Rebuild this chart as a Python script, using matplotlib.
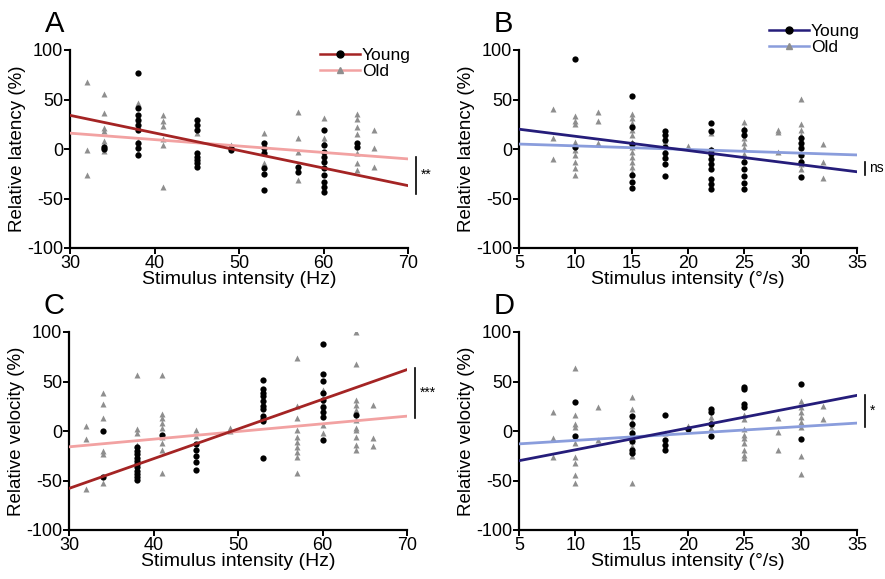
import matplotlib
matplotlib.use("Agg")
import matplotlib.pyplot as plt
from matplotlib.lines import Line2D

plt.rcParams['font.family'] = ['Liberation Sans', 'DejaVu Sans']
plt.rcParams['axes.unicode_minus'] = False

# ---- data: {stimulus: [values]} ----
# A: latency vs Hz
a_young = {34: [2, 0], 38: [77, 41, 34, 29, 24, 19, 6, 1, -6],
           45: [29, 24, 19, -4, -8, -11, -14, -18], 49: [1, -1],
           53: [6, 1, -4, -19, -25, -41], 57: [-18, -23],
           60: [19, 4, -3, -8, -13, -19, -26, -33, -38, -43], 64: [6, 2]}
a_old = {32: [68, -1, -26], 34: [56, 36, 21, 18, 8, 3, -2],
         38: [46, 30, 8, -3], 41: [34, 28, 23, 10, 4, -38], 45: [16],
         49: [4], 53: [16, -14], 57: [37, 11, -3, -31],
         60: [31, 11, 7], 64: [35, 30, 22, 15, -4, -14, -21], 66: [19, 1, -18]}
a_fit_young = [34, -37]
a_fit_old = [16, -10]

# B: latency vs deg/s
b_young = {10: [91, 2], 15: [54, 22, 5, -26, -33, -39],
           18: [18, 14, 9, 2, -4, -9, -15, -27],
           22: [26, 18, -1, -5, -10, -15, -20, -30, -35, -40],
           25: [19, 14, -13, -20, -27, -34, -40],
           30: [11, 6, 1, -6, -13, -28]}
b_old = {8: [40, 11, -10], 10: [33, 28, 25, 7, 4, -1, -6, -13, -19, -26],
         12: [37, 28, 6], 15: [35, 31, 26, 19, 14, 7, 2, -3, -8, -13, -18, -23],
         18: [8, -8], 20: [3], 22: [16, 0],
         25: [27, 21, 16, 11, 6, 1, -5, -10], 28: [19, 17, -3],
         30: [51, 25, 19, 14, 6, -5, -10, -15, -20], 32: [5, -13, -29]}
b_fit_young = [20, -23]
b_fit_old = [5, -6]

# C: velocity vs Hz
c_young = {34: [0, -46], 38: [-16, -20, -23, -27, -30, -33, -36, -40, -43, -46, -49],
           41: [-4], 45: [-13, -19, -25, -31, -39],
           53: [52, 42, 38, 35, 30, 25, 22, 15, 12, 10, -27],
           60: [88, 58, 51, 38, 31, 24, 19, 14, -9], 64: [16]}
c_old = {32: [5, -8, -59], 34: [38, 27, 13, -20, -23, -53],
         38: [57, 2, -2, -14], 41: [57, 17, 13, 8, 3, -6, -12, -19, -42],
         45: [1, -5], 49: [3, 0],
         57: [74, 25, 13, 1, -6, -11, -16, -21, -26, -42],
         60: [41, 28, 6, -2],
         64: [100, 68, 31, 26, 21, 11, 3, 1, -6, -14, -19], 66: [26, -7, -15]}
c_fit_young = [-58, 62]
c_fit_old = [-16, 15]

# D: velocity vs deg/s
d_young = {10: [29, -5], 15: [15, 7, -2, -10, -19, -22], 18: [16, -9, -14, -19],
           20: [2], 22: [22, 19, 7, -5], 25: [44, 42, 27, 24], 30: [47, -8]}
d_old = {8: [19, -7, -26], 10: [64, 16, 7, 4, -12, -26, -32, -44, -53],
         12: [24, -9], 15: [34, 22, 15, 10, 5, 0, -5, -10, -15, -20, -25, -53],
         18: [-2], 20: [5], 22: [14, 10, 3],
         25: [16, 12, 2, -4, -7, -12, -19, -24, -27], 28: [13, -1, -19],
         30: [30, 24, 19, 14, 9, 4, -25, -43], 32: [25, 12]}
d_fit_young = [-30, 36]
d_fit_old = [-13, 8]

hz_ticks = [30, 40, 50, 60, 70]
dps_ticks = [5, 10, 15, 20, 25, 30, 35]
y_ticks = [-100, -50, 0, 50, 100]

red_dark, red_light = '#a42424', '#f2a2a2'
blue_dark, blue_light = '#251d7a', '#8a9ddc'
grey = '#8e8e8e'


def flat(d):
    xs, ys = [], []
    for k, v in d.items():
        xs += [k] * len(v)
        ys += v
    return xs, ys


fig = plt.figure(figsize=(8.85, 5.79), dpi=100)
W, H = 885, 579


def make_ax(left, top):
    return fig.add_axes([left / W, 1 - (top + 198) / H, 338 / W, 198 / H])


panels = [
    (make_ax(70, 50), a_young, a_old, a_fit_young, a_fit_old, hz_ticks, red_dark, red_light,
     'Relative latency (%)', 'Stimulus intensity (Hz)', 'A', (-8, -45), '**'),
    (make_ax(519, 50), b_young, b_old, b_fit_young, b_fit_old, dps_ticks, blue_dark, blue_light,
     'Relative latency (%)', 'Stimulus intensity (°/s)', 'B', (-13, -26), 'ns'),
    (make_ax(69, 332), c_young, c_old, c_fit_young, c_fit_old, hz_ticks, red_dark, red_light,
     'Relative velocity (%)', 'Stimulus intensity (Hz)', 'C', (64, 13), '***'),
    (make_ax(519, 332), d_young, d_old, d_fit_young, d_fit_old, dps_ticks, blue_dark, blue_light,
     'Relative velocity (%)', 'Stimulus intensity (°/s)', 'D', (36, 4), '*'),
]

for i, (ax, yng, old, fy, fo, xt, cdark, clight, ylab, xlab, letter, br, star) in enumerate(panels):
    ox, oy = flat(old)
    yx, yy = flat(yng)
    xr = [xt[0], xt[-1]]
    ax.plot(ox, oy, '^', color=grey, ms=5, mec='none', zorder=2)
    ax.plot(yx, yy, 'o', color='black', ms=4.5, mec='none', zorder=3)
    ax.plot(xr, fo, color=clight, lw=2, zorder=4)
    ax.plot(xr, fy, color=cdark, lw=2, zorder=5)
    ax.set_xlim(xr)
    ax.set_ylim(-100, 100)
    ax.set_xticks(xt)
    ax.set_yticks(y_ticks)
    for s in ['top', 'right']:
        ax.spines[s].set_visible(False)
    for s in ['left', 'bottom']:
        ax.spines[s].set_linewidth(1.6)
    ax.tick_params(labelsize=13, width=1.4, length=4, pad=1)
    ax.set_ylabel(ylab, fontsize=13.5, labelpad=1)
    ax.set_xlabel(xlab, fontsize=14, labelpad=-1)
    ax.text(-0.075, 1.2, letter, transform=ax.transAxes, fontsize=21, va='top', ha='left')
    bx = 1.025
    ax.plot([bx, bx], br, color='black', lw=1.2, clip_on=False,
            transform=ax.get_yaxis_transform())
    ax.text(bx + 0.012, sum(br) / 2, star, transform=ax.get_yaxis_transform(),
            fontsize=10, va='center', ha='left')
    if i < 2:
        handles = [Line2D([], [], color=cdark, lw=1.8, marker='o', mfc='black', mec='black', ms=5),
                   Line2D([], [], color=clight, lw=1.8, marker='^', mfc=grey, mec=grey, ms=5)]
        top = 1.01 if i == 0 else 1.13
        ax.legend(handles, ['Young', 'Old'], loc='upper left', bbox_to_anchor=(0.74, top),
                  frameon=False, fontsize=12.5, handlelength=2.3, handletextpad=0.1,
                  labelspacing=0.05, borderpad=0, borderaxespad=0)

plt.savefig('out.png', dpi=100)
